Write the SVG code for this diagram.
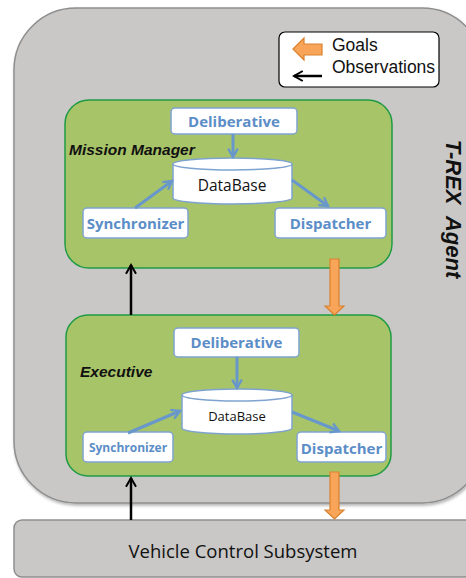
<svg xmlns="http://www.w3.org/2000/svg" width="466" height="578" viewBox="0 0 466 578">
<style>
.grey{fill:#c9c8c7;stroke:#8e8e8e;stroke-width:1.5}
.green{fill:#a8c468;stroke:#1f9a45;stroke-width:1.5}
.box{fill:#ffffff;stroke:#7ea3cf;stroke-width:1.5}
.bt{font-family:"Open Sans","Liberation Sans",sans-serif;font-weight:bold;fill:#5b8dc7;text-anchor:middle}
.db{font-family:"Open Sans","Liberation Sans",sans-serif;fill:#111;text-anchor:middle}
.lbl{font-family:"Liberation Sans",Arial,sans-serif;font-weight:bold;font-style:italic;fill:#111}
.blue{stroke:#6897cb;stroke-width:3;fill:none;marker-end:url(#ba)}
.obs{stroke:#000;stroke-width:2.5;fill:none;marker-end:url(#bk)}
.goal{fill:#f8a55a;stroke:#d9812e;stroke-width:1.2}
.leg{font-family:"Liberation Sans",Arial,sans-serif;font-size:17.5px;fill:#111}
</style>
<defs>
<marker id="ba" viewBox="0 0 10 10" refX="8" refY="5" markerWidth="4" markerHeight="4" orient="auto" markerUnits="strokeWidth">
<path d="M1,1 L8,5 L1,9" fill="none" stroke="#6897cb" stroke-width="2"/>
</marker>
<marker id="bk" viewBox="0 0 10 10" refX="8" refY="5" markerWidth="5" markerHeight="5" orient="auto" markerUnits="strokeWidth">
<path d="M1,1 L8,5 L1,9" fill="none" stroke="#000" stroke-width="1.6"/>
</marker>
<filter id="sh" x="-5%" y="-5%" width="110%" height="110%">
<feDropShadow dx="1" dy="2" stdDeviation="1.5" flood-color="#000" flood-opacity="0.3"/>
</filter>
</defs>

<g id="agent">
<rect class="grey" x="14" y="8" width="470" height="495" rx="62" filter="url(#sh)"/>
<text class="lbl" font-size="22" transform="translate(446,209) rotate(90)" text-anchor="middle" xml:space="preserve">T-REX  Agent</text>
</g>

<g id="legend">
<rect x="279" y="32" width="160" height="55" rx="6" fill="#fff" stroke="#000" stroke-width="1.2"/>
<path class="goal" d="M293,49 L304,38 L304,44 L322,44 L322,55 L304,55 L304,60 Z"/>
<line x1="322" y1="76" x2="294" y2="76" stroke="#000" stroke-width="2.5" marker-end="url(#bk)"/>
<text class="leg" x="332" y="51">Goals</text>
<text class="leg" x="332" y="73">Observations</text>
</g>

<g id="mission-manager">
<rect class="green" x="65" y="100" width="327" height="168" rx="24"/>
<text class="lbl" x="69" y="155" font-size="15.5">Mission Manager</text>
</g>
<g id="mm-deliberative">
<rect class="box" x="171" y="108" width="126" height="26" rx="4"/>
<text class="bt" x="234" y="127" font-size="15">Deliberative</text>
</g>
<g id="mm-database">
<path class="box" d="M173,164 L173,198 A59.5,6 0 0 0 292,198 L292,164"/>
<ellipse class="box" cx="232.5" cy="164" rx="59.5" ry="6"/>
<text class="db" x="232" y="191" font-size="15.5">DataBase</text>
</g>
<g id="mm-synchronizer">
<rect class="box" x="83" y="208" width="105" height="30" rx="4"/>
<text class="bt" x="135.5" y="229" font-size="15">Synchronizer</text>
</g>
<g id="mm-dispatcher">
<rect class="box" x="275" y="208" width="111" height="30" rx="4"/>
<text class="bt" x="330.5" y="229" font-size="15">Dispatcher</text>
</g>

<g id="executive">
<rect class="green" x="66" y="315" width="325" height="161" rx="22"/>
<text class="lbl" x="80" y="377" font-size="15.5">Executive</text>
</g>
<g id="ex-deliberative">
<rect class="box" x="174" y="328" width="125" height="29" rx="4"/>
<text class="bt" x="236.5" y="348" font-size="15">Deliberative</text>
</g>
<g id="ex-database">
<path class="box" d="M182,395 L182,428 A55,6 0 0 0 292,428 L292,395"/>
<ellipse class="box" cx="237" cy="395" rx="55" ry="6"/>
<text class="db" x="237" y="421" font-size="13">DataBase</text>
</g>
<g id="ex-synchronizer">
<rect class="box" x="83" y="432" width="90" height="30" rx="4"/>
<text class="bt" x="128" y="452" font-size="12">Synchronizer</text>
</g>
<g id="ex-dispatcher">
<rect class="box" x="297" y="432" width="89" height="30" rx="4"/>
<text class="bt" x="341.5" y="454" font-size="15">Dispatcher</text>
</g>

<g id="vehicle">
<rect class="grey" x="14" y="520" width="470" height="57" rx="8"/>
<text x="243" y="558" font-family="Open Sans,Liberation Sans,sans-serif" font-size="18.5" fill="#111" text-anchor="middle">Vehicle Control Subsystem</text>
</g>

<g id="connectors">
<line class="blue" x1="233" y1="134" x2="233" y2="157"/>
<line class="blue" x1="135" y1="208" x2="172" y2="181"/>
<line class="blue" x1="292" y1="180" x2="328" y2="206"/>
<line class="blue" x1="237" y1="357" x2="237" y2="388"/>
<line class="blue" x1="128" y1="433" x2="180" y2="411"/>
<line class="blue" x1="292" y1="412" x2="339" y2="431"/>
<line class="obs" x1="131" y1="315" x2="131" y2="265"/>
<line class="obs" x1="131" y1="520" x2="131" y2="478"/>
<path class="goal" d="M330,259 L339,259 L339,306 L344,306 L334.5,315 L325,306 L330,306 Z"/>
<path class="goal" d="M330,472 L339,472 L339,510 L344,510 L334.5,519 L325,510 L330,510 Z"/>
</g>
</svg>
